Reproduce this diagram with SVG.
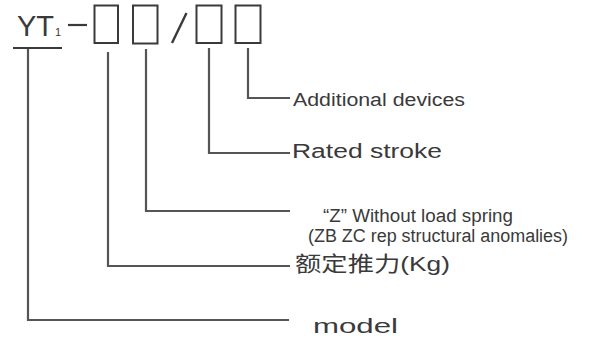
<svg xmlns="http://www.w3.org/2000/svg" width="589" height="340" viewBox="0 0 589 340">
<style>
.t{font-family:"Liberation Sans",Arial,"Noto Sans CJK SC",sans-serif;fill:#3a3a3a}
.box{fill:none;stroke:#3a3a3a;stroke-width:2}
.ln{fill:none;stroke:#555;stroke-width:2.2}
</style>
<rect width="589" height="340" fill="#fff"/>
<g id="code">
<text class="t" x="17" y="36" font-size="29">YT</text>
<text class="t" x="55" y="36" font-size="11">1</text>
<line x1="13" y1="48" x2="62" y2="48" stroke="#3a3a3a" stroke-width="2.2"/>
<line x1="68" y1="25" x2="87" y2="25" stroke="#3a3a3a" stroke-width="2.2"/>
<rect id="box1" class="box" x="94.5" y="5.5" width="23.5" height="37.5"/>
<rect id="box2" class="box" x="133" y="5.5" width="24.5" height="38"/>
<line x1="172" y1="43" x2="186.5" y2="13" stroke="#3a3a3a" stroke-width="2.4"/>
<rect id="box3" class="box" x="196.5" y="5.5" width="25" height="37.5"/>
<rect id="box4" class="box" x="235.5" y="5.5" width="25" height="37.5"/>
</g>
<g id="connectors">
<polyline class="ln" points="28,49 28,320 289,320"/>
<polyline class="ln" points="108,52 108,266 290,266"/>
<polyline class="ln" points="146,49 146,211 290,211"/>
<polyline class="ln" points="209,48 209,153 290,153"/>
<polyline class="ln" points="248,48 248,98 290,98"/>
</g>
<g id="additional"><text class="t" x="293" y="106" font-size="18" textLength="172" lengthAdjust="spacingAndGlyphs">Additional devices</text></g>
<g id="rated"><text class="t" x="292" y="158" font-size="20" textLength="150" lengthAdjust="spacingAndGlyphs">Rated stroke</text></g>
<g id="spring">
<text class="t" x="323" y="222" font-size="18" textLength="190" lengthAdjust="spacingAndGlyphs">“Z” Without load spring</text>
<text class="t" x="308" y="242" font-size="18" textLength="260" lengthAdjust="spacingAndGlyphs">(ZB ZC rep structural anomalies)</text>
</g>
<g id="thrust"><text class="t" x="295" y="271" font-size="21" textLength="155" lengthAdjust="spacingAndGlyphs">额定推力(Kg)</text></g>
<g id="model"><text class="t" x="313" y="333" font-size="21" textLength="85" lengthAdjust="spacingAndGlyphs">model</text></g>
</svg>
